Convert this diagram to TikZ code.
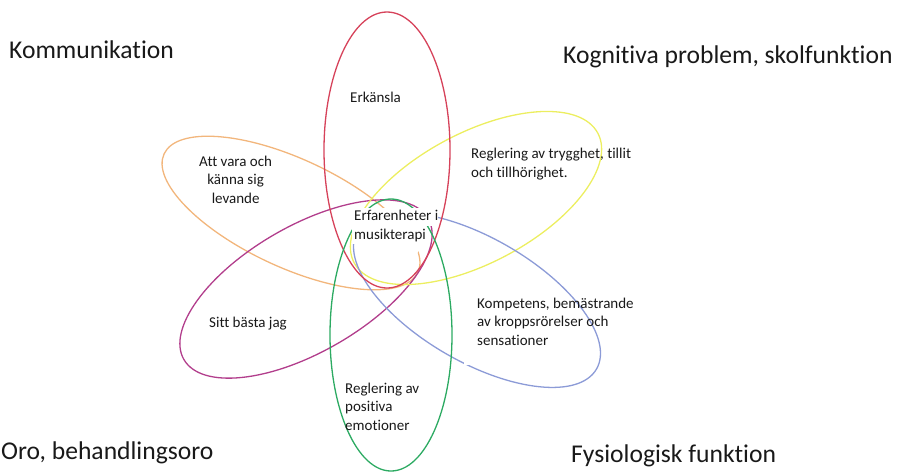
\documentclass[tikz,border=0pt]{standalone}
\usepackage{fontspec}
\setmainfont{Carlito}[RawFeature={-liga}]
\definecolor{ringred}{RGB}{214,66,90}
\definecolor{ringgreen}{RGB}{44,170,98}
\definecolor{ringyellow}{RGB}{236,238,96}
\definecolor{ringblue}{RGB}{140,155,215}
\definecolor{ringorange}{RGB}{242,182,124}
\definecolor{ringpurple}{RGB}{178,62,140}
\definecolor{txt}{RGB}{25,25,25}
\begin{document}
\begin{tikzpicture}[x=1pt,y=-1pt,
  ring/.style={line width=1.3pt},
  lbl/.style={font=\fontsize{15}{18.5}\selectfont, text=txt, inner sep=0pt, align=left, anchor=base west},
  corner/.style={font=\fontsize{25.6}{30}\selectfont, text=txt, inner sep=0pt, anchor=base west},
  blank/.style={fill=white, draw=none}]
\useasboundingbox (0,0) rectangle (899,472);

% ellipses
\draw[ring, ringorange, rotate around={-25:(291,213)}] (291,213) ellipse [x radius=140pt, y radius=54pt];
\draw[ring, ringpurple, rotate around={30:(306,289)}] (306,289) ellipse [x radius=141pt, y radius=63pt];
\draw[ring, ringyellow, rotate around={28:(476,198)}] (476,198) ellipse [x radius=138pt, y radius=65pt];
\draw[ring, ringblue, rotate around={-30:(477,300)}] (477,300) ellipse [x radius=138pt, y radius=62pt];
\draw[ring, ringred] (387,150) ellipse [x radius=63pt, y radius=138pt];
\draw[ring, ringgreen] (391,335) ellipse [x radius=61pt, y radius=136pt];

% white backgrounds of text boxes
\fill[blank] (388,240) ellipse [x radius=34pt, y radius=26pt];
\fill[blank] (352,208) rectangle (438,226);
\fill[blank] (352,226) rectangle (426,244);
\fill[blank] (463,145) rectangle (570,204);
\fill[blank] (464,297) rectangle (560,365);

% corner labels
\node[corner] (komm) at (9,58) {Kommunikation};
\node[corner] (kogn) at (563,63) {Kognitiva problem, skolfunktion};
\node[corner] (oro) at (1,459) {Oro, behandlingsoro};
\node[corner] (fys) at (571,462) {Fysiologisk funktion};

% ellipse labels (multi-line nodes: base = last line)
\node[lbl] (erk) at (350,102) {Erkänsla};
\node[lbl, align=center] (lev) at (199,203) {Att vara och\\ känna sig\\ levande};
\node[lbl] (tryg) at (471,177) {Reglering av trygghet, tillit\\och tillhörighet.};
\node[lbl] (center) at (354,239) {Erfarenheter i\\musikterapi};
\node[lbl] (sitt) at (209,327) {Sitt bästa jag};
\node[lbl] (komp) at (477,345) {Kompetens, bemästrande\\av kroppsrörelser och\\sensationer};
\node[lbl] (emo) at (345,430) {Reglering av\\positiva\\emotioner};
\end{tikzpicture}
\end{document}
